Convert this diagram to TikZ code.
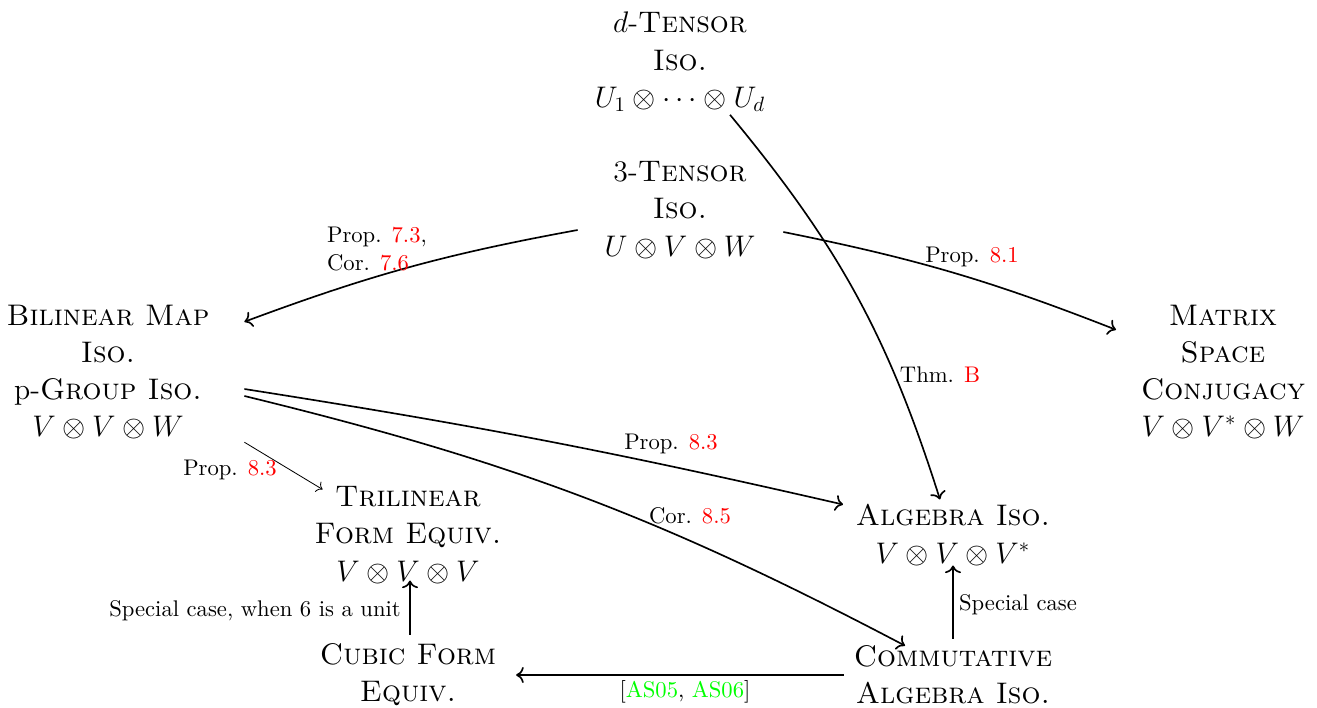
\documentclass[tikz,border=0pt]{standalone}
\usepackage{amsmath,amssymb,xcolor}
\usepackage{tikz}
\usetikzlibrary{arrows.meta}
\tikzset{obj/.style={font=\Large,align=center,inner sep=0pt,outer sep=0pt},
  lbl/.style={font=\fontsize{10.95}{13.6}\selectfont,inner sep=0pt}}
\newcommand{\rref}[1]{\textcolor{red}{#1}}
\newcommand{\gref}[1]{\textcolor{green}{#1}}

\begin{document}
\begin{tikzpicture}[x=0.017cm, y=-0.017cm, >={To[scale=1.1]}]
    \useasboundingbox (0, 0) rectangle (1317, 708);
    % objects
    \node[obj] (dten) at (680, 62) {$d$-\textsc{Tensor}\\\textsc{Iso.}\\$U_1\otimes\cdots\otimes U_d$};
    \node[obj] (three) at (680, 210) {3-\textsc{Tensor}\\\textsc{Iso.}\\$U\otimes V\otimes W$};
    \node[obj] (bil) at (108, 372) {\textsc{Bilinear Map}\\\textsc{Iso.}\\p-\textsc{Group Iso.}\\$V\otimes V\otimes W$};
    \node[obj] (mat) at (1223, 372) {\textsc{Matrix}\\\textsc{Space}\\\textsc{Conjugacy}\\$V\otimes V^{*}\otimes W$};
    \node[obj] (tri) at (408, 535) {\textsc{Trilinear}\\\textsc{Form Equiv.}\\$V\otimes V\otimes V$};
    \node[obj] (alg) at (953, 535) {\textsc{Algebra Iso.}\\$V\otimes V\otimes V^{*}$};
    \node[obj] (cub) at (408, 675) {\textsc{Cubic Form}\\\textsc{Equiv.}};
    \node[obj] (comm) at (953, 675) {\textsc{Commutative}\\\textsc{Algebra Iso.}};
    % reductions
    \draw[thick,->] ([shift={(-27,20)}]three.west) to[bend right=5] ([shift={(35,17)}]bil.north east);
    \draw[thick,->] ([shift={(28,22)}]three.east) to[bend left=5] ([shift={(-25,25)}]mat.north west);
    \draw[thick,->] ([shift={(50,3)}]dten.south) to[bend left=11] ([shift={(-13,-5)}]alg.north);
    \draw[thick,->] ([shift={(35,17)}]bil.east) to[bend left=2] ([shift={(-13,0)}]alg.north west);
    \draw[thick,->] ([shift={(35,24)}]bil.east) to[bend left=7] ([shift={(-48,0)}]comm.north);
    \draw[->] ([shift={(35,3)}]bil.south east) -- ([shift={(8,3)}]tri.north west);
    \draw[thick,->] ([shift={(2,-9)}]cub.north) -- ([shift={(2,-3)}]tri.south);
    \draw[thick,->] ([shift={(0,-7)}]comm.north) -- (alg.south);
    \draw[thick,->] ([shift={(-10,0)}]comm.west) -- ([shift={(20,0)}]cub.east);
    % labels
    \node[lbl,align=left] (l73) at (377, 249) {Prop. \rref{7.3},\\Cor. \rref{7.6}};
    \node[lbl] (l81) at (972, 257) {Prop. \rref{8.1}};
    \node[lbl] (lB) at (940, 375) {Thm. \rref{B}};
    \node[lbl] (l83a) at (671, 444) {Prop. \rref{8.3}};
    \node[lbl] (l85) at (690, 516) {Cor. \rref{8.5}};
    \node[lbl] (l83b) at (230, 470) {Prop. \rref{8.3}};
    \node[lbl] (lsp6) at (255, 611) {Special case, when 6 is a unit};
    \node[lbl] (lsp) at (1018, 605) {Special case};
    \node[lbl] (las) at (685, 692) {[\gref{AS05}, \gref{AS06}]};
\end{tikzpicture}
\end{document}
